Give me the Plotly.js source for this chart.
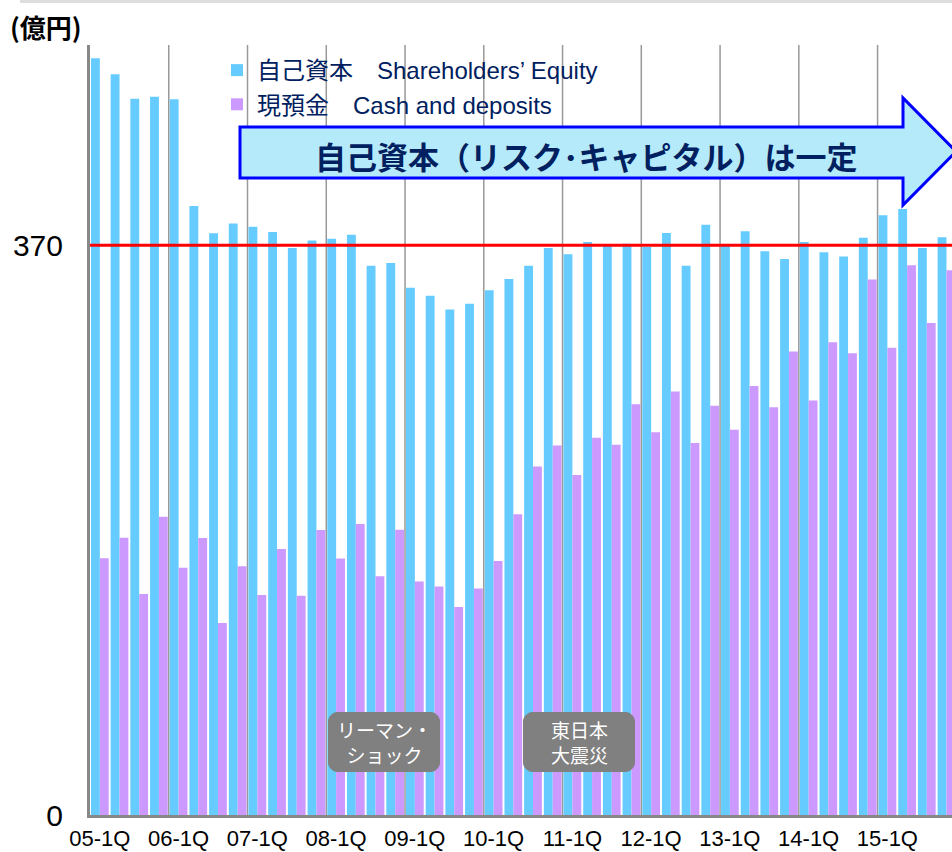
<!DOCTYPE html>
<html>
<head>
<meta charset="utf-8">
<script src="https://cdn.plot.ly/plotly-3.0.1.min.js"></script>
<style>
  html, body { margin: 0; padding: 0; background: #fff; overflow: hidden; }
  #plot { width: 952px; height: 852px; }
</style>
</head>
<body>
<div id="plot"></div>
<script>
// quarters shown on the axis (05-1Q .. 15-4Q)
var quarters = [
  '05-1Q','05-2Q','05-3Q','05-4Q','06-1Q','06-2Q','06-3Q','06-4Q',
  '07-1Q','07-2Q','07-3Q','07-4Q','08-1Q','08-2Q','08-3Q','08-4Q',
  '09-1Q','09-2Q','09-3Q','09-4Q','10-1Q','10-2Q','10-3Q','10-4Q',
  '11-1Q','11-2Q','11-3Q','11-4Q','12-1Q','12-2Q','12-3Q','12-4Q',
  '13-1Q','13-2Q','13-3Q','13-4Q','14-1Q','14-2Q','14-3Q','14-4Q',
  '15-1Q','15-2Q','15-3Q','15-4Q'
];
var yearTicks = ['05-1Q','06-1Q','07-1Q','08-1Q','09-1Q','10-1Q','11-1Q','12-1Q','13-1Q','14-1Q','15-1Q'];

// 自己資本 Shareholders' Equity (億円)
var equity = [
  491.4, 481.0, 465.1, 466.4, 464.8, 395.5, 377.8, 384.1,
  382.0, 378.6, 368.2, 373.0, 374.2, 376.8, 356.6, 358.5,
  342.4, 337.2, 328.2, 332.0, 340.8, 348.0, 356.7, 368.2,
  364.2, 372.0, 369.4, 370.9, 368.8, 377.9, 356.7, 383.3,
  369.4, 379.1, 366.1, 361.1, 372.0, 365.5, 362.6, 374.9,
  389.5, 393.5, 368.2, 375.1
];
// 現預金 Cash and deposits (億円)
var cash = [
  166.8, 180.0, 143.5, 193.6, 160.5, 179.8, 124.6, 161.6,
  142.8, 172.7, 142.4, 185.0, 166.6, 188.9, 155.1, 185.2,
  151.7, 148.4, 135.0, 147.1, 164.9, 195.3, 226.3, 240.0,
  220.7, 244.9, 240.4, 266.8, 248.6, 275.0, 241.5, 265.7,
  250.1, 278.5, 264.8, 301.0, 269.2, 307.0, 299.9, 347.7,
  303.4, 357.0, 319.4, 353.8
];
var riskCapital = 370;

var navy = '#002060';
var jpFont = 'Liberation Sans, Noto Sans CJK JP, sans-serif';

// plot area in pixels: left 90, right 952, top 45, bottom 815
function fx(px) { return (px - 90) / 862; }
function fy(py) { return (815 - py) / 770; }
function path(pts) {
  return 'M' + pts.map(function (p) { return fx(p[0]) + ',' + fy(p[1]); }).join('L') + 'Z';
}
function roundBox(x0, y0, x1, y1, r) {
  var k = 0.45 * r, s = '';
  s += 'M' + fx(x0 + r) + ',' + fy(y0);
  s += 'L' + fx(x1 - r) + ',' + fy(y0);
  s += 'C' + fx(x1 - r + k) + ',' + fy(y0) + ' ' + fx(x1) + ',' + fy(y0 + r - k) + ' ' + fx(x1) + ',' + fy(y0 + r);
  s += 'L' + fx(x1) + ',' + fy(y1 - r);
  s += 'C' + fx(x1) + ',' + fy(y1 - r + k) + ' ' + fx(x1 - r + k) + ',' + fy(y1) + ' ' + fx(x1 - r) + ',' + fy(y1);
  s += 'L' + fx(x0 + r) + ',' + fy(y1);
  s += 'C' + fx(x0 + r - k) + ',' + fy(y1) + ' ' + fx(x0) + ',' + fy(y1 - r + k) + ' ' + fx(x0) + ',' + fy(y1 - r);
  s += 'L' + fx(x0) + ',' + fy(y0 + r);
  s += 'C' + fx(x0) + ',' + fy(y0 + r - k) + ' ' + fx(x0 + r - k) + ',' + fy(y0) + ' ' + fx(x0 + r) + ',' + fy(y0);
  return s + 'Z';
}

var trace1 = {
  type: 'bar',
  x: quarters,
  y: equity,
  name: '自己資本\u3000Shareholders\u2019 Equity',
  marker: {color: '#66ccff'}
};
var trace2 = {
  type: 'bar',
  x: quarters,
  y: cash,
  name: '現預金\u3000Cash and deposits',
  marker: {color: '#cc99ff'}
};

var shapes = [];
// year separators
for (var i = 4; i < quarters.length; i += 4) {
  shapes.push({type: 'line', xref: 'x', yref: 'paper', x0: i - 0.5, x1: i - 0.5, y0: 0, y1: 1,
    layer: 'below', line: {color: '#999999', width: 1.5}});
}
// risk capital level
shapes.push({type: 'line', xref: 'paper', yref: 'y', x0: 0, x1: 1, y0: riskCapital, y1: riskCapital,
  line: {color: '#ff0000', width: 3}});
// big arrow
shapes.push({type: 'path', xref: 'paper', yref: 'paper',
  path: path([[240,127],[903,127],[903,98],[956,151.5],[903,205],[903,178],[240,178]]),
  fillcolor: '#b4eafa', line: {color: '#0000ff', width: 3}});
// event boxes
shapes.push({type: 'path', xref: 'paper', yref: 'paper', path: roundBox(328, 712, 440, 772, 9),
  fillcolor: '#808080', line: {width: 0}});
shapes.push({type: 'path', xref: 'paper', yref: 'paper', path: roundBox(523, 712, 635, 772, 9),
  fillcolor: '#808080', line: {width: 0}});
// slide frame shadow at the top
shapes.push({type: 'rect', xref: 'paper', yref: 'paper', x0: fx(20), x1: fx(960), y0: fy(0), y1: fy(3),
  fillcolor: '#dddddd', line: {width: 0}});

var annotations = [
  {xref: 'paper', yref: 'paper', x: fx(46), y: fy(26), xanchor: 'center', yanchor: 'middle',
    text: '<b>(億円)</b>', showarrow: false,
    font: {family: 'Noto Sans CJK JP', size: 26, color: '#000'}},
  {xref: 'paper', yref: 'paper', x: fx(586), y: fy(155), xanchor: 'center', yanchor: 'middle',
    text: '<b>自己資本（リスク･キャピタル）は一定</b>', showarrow: false,
    font: {family: 'Noto Sans CJK JP', size: 31, color: navy}},
  {xref: 'paper', yref: 'paper', x: fx(384), y: fy(742), xanchor: 'center', yanchor: 'middle',
    text: 'リーマン・<br>ショック', showarrow: false,
    font: {family: 'Noto Sans CJK JP', size: 19, color: '#fff'}},
  {xref: 'paper', yref: 'paper', x: fx(579), y: fy(742), xanchor: 'center', yanchor: 'middle',
    text: '東日本<br>大震災', showarrow: false,
    font: {family: 'Noto Sans CJK JP', size: 19, color: '#fff'}}
];

var layout = {
  width: 952,
  height: 852,
  margin: {l: 90, r: 0, t: 45, b: 37},
  paper_bgcolor: '#ffffff',
  plot_bgcolor: '#ffffff',
  barmode: 'group',
  bargap: 0.1,
  bargroupgap: 0,
  showlegend: true,
  legend: {
    x: fx(217), y: fy(48), xanchor: 'left', yanchor: 'top',
    bgcolor: 'rgba(0,0,0,0)',
    font: {family: jpFont, size: 24, color: navy},
    tracegroupgap: 0
  },
  xaxis: {
    type: 'category',
    range: [-0.5, 43.28],
    tickmode: 'array',
    tickvals: yearTicks,
    ticktext: yearTicks,
    showgrid: false,
    zeroline: false,
    showline: true,
    linecolor: '#888888',
    linewidth: 3,
    ticks: '',
    ticklabelstandoff: 2,
    tickfont: {family: 'Liberation Sans, Arial, sans-serif', size: 22, color: '#000'}
  },
  yaxis: {
    range: [0, 500],
    tickmode: 'array',
    tickvals: [0, riskCapital],
    ticktext: ['0', String(riskCapital)],
    showgrid: false,
    zeroline: false,
    showline: true,
    linecolor: '#888888',
    linewidth: 3,
    ticks: '',
    ticklabelstandoff: 18,
    tickfont: {family: 'Liberation Sans, Arial, sans-serif', size: 30, color: '#000'}
  },
  shapes: shapes,
  annotations: annotations
};

Plotly.newPlot('plot', [trace1, trace2], layout, {displayModeBar: false, staticPlot: true});
</script>
</body>
</html>
